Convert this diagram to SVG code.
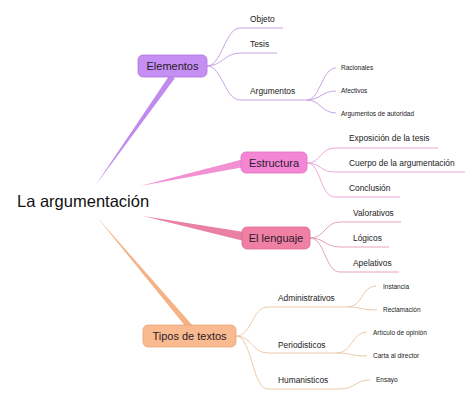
<svg xmlns="http://www.w3.org/2000/svg" width="474" height="403" viewBox="0 0 474 403">
<style>
text{font-family:"Liberation Sans",Arial,sans-serif;fill:#222}
.root{font-size:16.5px;fill:#111}
.main{font-size:11px;text-anchor:middle;fill:#2a1a2a}
.sub{font-size:8.4px}
.leaf{font-size:6.5px}
.c{fill:none;stroke-width:1}
.p{stroke:#c9a3e6}
.k{stroke:#eea8d9}
.r{stroke:#e6a3ba}
.o{stroke:#ebcaa6}
</style>
<rect width="474" height="403" fill="#fff"/>
<g id="connectors">
<polygon points="95,186 169,76 175,78" fill="#c08aee"/>
<polygon points="140,186 244,159 244,167" fill="#f290d3"/>
<polygon points="143,216 244,232 244,241" fill="#ea80a4"/>
<polygon points="96,216 186,327 193,326" fill="#f4b285"/>
<path class="c p" d="M207,66 C222,66 225,28 240,28 H283"/>
<path class="c p" d="M207,66 C222,66 225,53 240,53 H277"/>
<path class="c p" d="M207,66 C222,66 225,100 240,100 H307"/>
<path class="c p" d="M307,100 C320,100 322,68 336,68"/>
<path class="c p" d="M307,100 C320,100 322,91 336,91"/>
<path class="c p" d="M307,100 C320,100 322,113 336,113"/>
<path class="c k" d="M307,163 C321,163 320,148 335,148 H438"/>
<path class="c k" d="M307,163 C321,163 320,172 335,172 H465"/>
<path class="c k" d="M307,163 C321,163 320,197 335,197 H400"/>
<path class="c r" d="M310,238 C325,238 325,222 340,222 H401"/>
<path class="c r" d="M310,238 C325,238 325,247 340,247 H389"/>
<path class="c r" d="M310,238 C325,238 325,272 340,272 H399"/>
<path class="c o" d="M236,336 C252,336 252,307 268,307 H349 C360,307 362,310 377,310"/>
<path class="c o" d="M348,307 C362,307 362,286 376,286"/>
<path class="c o" d="M236,336 C252,336 252,353 268,353 H337 C350,353 352,356 367,356"/>
<path class="c o" d="M337,353 C352,353 352,332 367,332"/>
<path class="c o" d="M236,336 C252,336 252,389 268,389 H340 C355,389 355,380 370,380"/>
</g>
<g id="root"><text class="root" x="17" y="207">La argumentación</text></g>
<g id="elementos">
<rect x="138" y="55" width="69" height="22" rx="5" fill="#c48ef2" stroke="#ad74dc" stroke-width="0.8"/>
<text class="main" x="172.5" y="70">Elementos</text>
</g>
<g id="objeto"><text class="sub" x="250" y="22">Objeto</text></g>
<g id="tesis"><text class="sub" x="250" y="46.5">Tesis</text></g>
<g id="argumentos"><text class="sub" x="250" y="94">Argumentos</text></g>
<g id="racionales"><text class="leaf" x="341" y="70.3">Racionales</text></g>
<g id="afectivos"><text class="leaf" x="341" y="93.3">Afectivos</text></g>
<g id="autoridad"><text class="leaf" x="341" y="115.8">Argumentos de autoridad</text></g>
<g id="estructura">
<rect x="241" y="152" width="66" height="21" rx="5" fill="#f487d5" stroke="#df6fbf" stroke-width="0.8"/>
<text class="main" x="274" y="166.5">Estructura</text>
</g>
<g id="exposicion"><text class="sub" x="349" y="141">Exposición de la tesis</text></g>
<g id="cuerpo"><text class="sub" x="349" y="166">Cuerpo de la argumentación</text></g>
<g id="conclusion"><text class="sub" x="349" y="191">Conclusión</text></g>
<g id="lenguaje">
<rect x="242" y="227" width="68" height="22" rx="5" fill="#ef80a4" stroke="#d9698e" stroke-width="0.8"/>
<text class="main" x="276" y="242">El lenguaje</text>
</g>
<g id="valorativos"><text class="sub" x="353" y="216">Valorativos</text></g>
<g id="logicos"><text class="sub" x="353" y="241">Lógicos</text></g>
<g id="apelativos"><text class="sub" x="353" y="266">Apelativos</text></g>
<g id="tipos">
<rect x="143" y="325" width="93" height="22" rx="5" fill="#f9ba8f" stroke="#e9a577" stroke-width="0.8"/>
<text class="main" x="189.5" y="340">Tipos de textos</text>
</g>
<g id="administrativos"><text class="sub" x="278" y="301">Administrativos</text></g>
<g id="periodisticos"><text class="sub" x="278" y="348">Periodisticos</text></g>
<g id="humanisticos"><text class="sub" x="278" y="383">Humanisticos</text></g>
<g id="instancia"><text class="leaf" x="383" y="289.3">Instancia</text></g>
<g id="reclamacion"><text class="leaf" x="383" y="312.3">Reclamación</text></g>
<g id="articulo"><text class="leaf" x="373" y="335.3">Artículo de opinión</text></g>
<g id="carta"><text class="leaf" x="373" y="358.3">Carta al director</text></g>
<g id="ensayo"><text class="leaf" x="376" y="382.3">Ensayo</text></g>
</svg>
